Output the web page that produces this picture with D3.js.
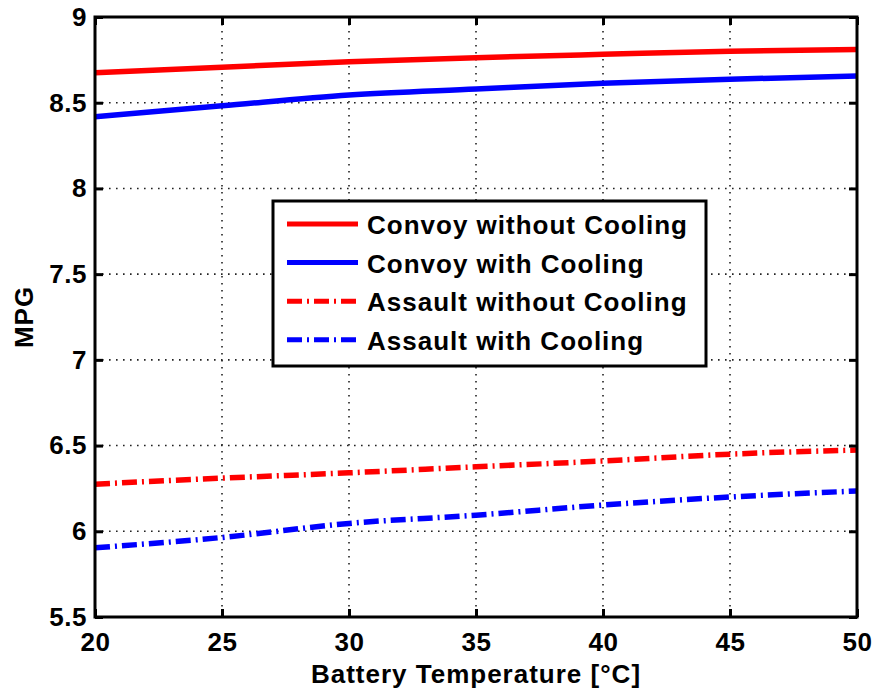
<!DOCTYPE html>
<html>
<head>
<meta charset="utf-8">
<script src="https://cdn.jsdelivr.net/npm/d3@7"></script>
<style>
  body { margin: 0; background: #fff; }
  text { font-family: "Liberation Sans", Arial, sans-serif; font-weight: bold; fill: #000; }
</style>
</head>
<body>
<div id="chart"></div>
<script>
// battery temperature in degC
var temps = [20, 25, 30, 35, 40, 45, 50];

// MPG per case
var convoyNoCool   = [8.675, 8.707, 8.739, 8.763, 8.782, 8.80, 8.81];
var convoyCool     = [8.418, 8.482, 8.545, 8.58, 8.613, 8.637, 8.656];
var assaultNoCool  = [6.275, 6.31, 6.341, 6.376, 6.41, 6.45, 6.474];
var assaultCool    = [5.904, 5.964, 6.046, 6.094, 6.153, 6.20, 6.235];

var seriesNames = ["Convoy without Cooling", "Convoy with Cooling",
                   "Assault without Cooling", "Assault with Cooling"];

var xTicks = [20, 25, 30, 35, 40, 45, 50];
var yTicks = [5.5, 6, 6.5, 7, 7.5, 8, 8.5, 9];

function draw() {
  var W = 878, H = 694;
  var pLeft = 95, pRight = 857, pTop = 17, pBottom = 617;

  var svg = d3.select("#chart").append("svg")
      .attr("width", W)
      .attr("height", H);

  var x = d3.scaleLinear().domain([20, 50]).range([pLeft, pRight]);
  var y = d3.scaleLinear().domain([5.5, 9]).range([pBottom, pTop]);

  // dotted grid
  var grid = svg.append("g")
      .attr("stroke", "#222")
      .attr("stroke-width", 1.6)
      .attr("stroke-dasharray", "1.6,5.4");

  grid.selectAll("line.vx")
    .data(xTicks.slice(1, -1))
    .enter().append("line")
      .attr("x1", d => x(d)).attr("x2", d => x(d))
      .attr("y1", pTop).attr("y2", pBottom);

  grid.selectAll("line.hy")
    .data(yTicks.slice(1, -1))
    .enter().append("line")
      .attr("x1", pLeft).attr("x2", pRight)
      .attr("y1", d => y(d)).attr("y2", d => y(d));

  // data lines
  var series = [
    { name: seriesNames[0], vals: convoyNoCool,  color: "#ff0000", dash: null },
    { name: seriesNames[1], vals: convoyCool,    color: "#0000ff", dash: null },
    { name: seriesNames[2], vals: assaultNoCool, color: "#ff0000", dash: "15,5,2,5" },
    { name: seriesNames[3], vals: assaultCool,   color: "#0000ff", dash: "15,5,2,5" }
  ];

  var line = d3.line()
      .x((d, i) => x(temps[i]))
      .y(d => y(d))
      .curve(d3.curveMonotoneX);

  svg.append("g").selectAll("path")
    .data(series)
    .enter().append("path")
      .attr("d", d => line(d.vals))
      .attr("fill", "none")
      .attr("stroke", d => d.color)
      .attr("stroke-width", 5.5)
      .attr("stroke-dasharray", d => d.dash);

  // axes: ticks inside, box frame
  var xAxisB = d3.axisBottom(x).tickValues(xTicks).tickSize(-8).tickPadding(16).tickFormat(d3.format("d"));
  var xAxisT = d3.axisTop(x).tickValues(xTicks).tickSize(-8).tickFormat("");
  var yAxisL = d3.axisLeft(y).tickValues(yTicks).tickSize(-8).tickPadding(8).tickFormat(d3.format("~g"));
  var yAxisR = d3.axisRight(y).tickValues(yTicks).tickSize(-8).tickFormat("");

  function styleAxis(g) {
    g.select(".domain").remove();
    g.selectAll(".tick line").attr("stroke", "#000").attr("stroke-width", 3);
    g.selectAll(".tick text")
      .style("font-family", "'Liberation Sans', Arial, sans-serif")
      .style("font-weight", "bold")
      .style("font-size", "26px")
      .style("letter-spacing", "0.5px")
      .attr("fill", "#000");
  }

  svg.append("g").attr("transform", "translate(0," + pBottom + ")").call(xAxisB).call(styleAxis);
  svg.append("g").attr("transform", "translate(0," + pTop + ")").call(xAxisT).call(styleAxis);
  svg.append("g").attr("transform", "translate(" + pLeft + ",0)").call(yAxisL).call(styleAxis);
  svg.append("g").attr("transform", "translate(" + pRight + ",0)").call(yAxisR).call(styleAxis);

  svg.append("rect")
      .attr("x", pLeft).attr("y", pTop)
      .attr("width", pRight - pLeft).attr("height", pBottom - pTop)
      .attr("fill", "none")
      .attr("stroke", "#000")
      .attr("stroke-width", 3);

  // axis titles
  svg.append("text")
      .attr("x", (pLeft + pRight) / 2)
      .attr("y", 683)
      .attr("text-anchor", "middle")
      .style("font-size", "26px")
      .style("letter-spacing", "1px")
      .text("Battery Temperature [°C]");

  svg.append("text")
      .attr("transform", "translate(33," + ((pTop + pBottom) / 2) + ") rotate(-90)")
      .attr("text-anchor", "middle")
      .style("font-size", "26px")
      .style("letter-spacing", "1px")
      .text("MPG");

  // legend
  var lg = svg.append("g").attr("transform", "translate(273,201)");

  lg.append("rect")
      .attr("width", 433).attr("height", 165)
      .attr("fill", "#fff")
      .attr("stroke", "#000")
      .attr("stroke-width", 3);

  var rows = lg.selectAll("g.row")
    .data(series)
    .enter().append("g")
      .attr("transform", (d, i) => "translate(0," + (23 + i * 38.6) + ")");

  rows.append("line")
      .attr("x1", 14).attr("x2", 85)
      .attr("stroke", d => d.color)
      .attr("stroke-width", 5)
      .attr("stroke-dasharray", d => d.dash);

  rows.append("text")
      .attr("x", 94)
      .attr("y", 10)
      .style("font-size", "26px")
      .style("letter-spacing", "1px")
      .text(d => d.name);
}

draw();
</script>
</body>
</html>
